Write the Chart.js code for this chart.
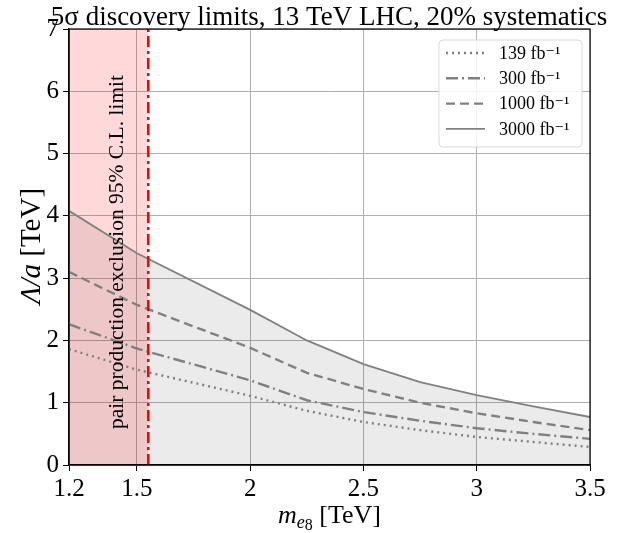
<!DOCTYPE html>
<html>
<head>
<meta charset="utf-8">
<script src="https://cdn.jsdelivr.net/npm/chart.js@4"></script>
<style>
  body { margin: 0; background: #fff; }
  canvas { display: block; }
</style>
</head>
<body>
<canvas id="limitsChart" width="624" height="533"></canvas>
<script>
// masses in TeV and the 5 sigma reach in Lambda/a (TeV)
const masses = [1.2, 1.5, 2.0, 2.25, 2.5, 2.75, 3.0, 3.25, 3.5];
const lim139 = [1.86, 1.53, 1.11, 0.87, 0.69, 0.56, 0.45, 0.37, 0.29];
const lim300 = [2.26, 1.87, 1.36, 1.04, 0.85, 0.71, 0.59, 0.50, 0.42];
const lim1000 = [3.10, 2.57, 1.88, 1.48, 1.22, 1.00, 0.83, 0.69, 0.56];
const lim3000 = [4.08, 3.40, 2.49, 2.00, 1.62, 1.33, 1.12, 0.94, 0.77];

// pair production exclusion
const exclMass = [1.2, 1.55];
const exclTop = [7, 7];
const pairLimit = 1.55;

const xTicks = [1.2, 1.5, 2, 2.5, 3, 3.5];
const yTicks = [0, 1, 2, 3, 4, 5, 6, 7];
const lumiLabels = ['139 fb\u207B\u00B9', '300 fb\u207B\u00B9', '1000 fb\u207B\u00B9', '3000 fb\u207B\u00B9'];
const titleText = '5\u03C3 discovery limits, 13 TeV LHC, 20% systematics';

const serif = '"Liberation Serif", "DejaVu Serif", serif';
const grey = '#808080';

const toPoints = (xs, ys) => xs.map((x, i) => ({ x: x, y: ys[i] }));

// title, frame, axis titles with sub/superscripts, rotated note, legend box
const extrasPlugin = {
    id: 'extras',
    afterDatasetsDraw(chart) {
        const { ctx, chartArea: a } = chart;
        ctx.save();

        // note inside the excluded band
        ctx.translate(117, 252);
        ctx.rotate(-Math.PI / 2);
        ctx.fillStyle = '#000';
        ctx.font = '21.5px ' + serif;
        ctx.textAlign = 'center';
        ctx.textBaseline = 'middle';
        ctx.fillText('pair production exclusion 95% C.L. limit', 0, 0);
        ctx.restore();
    },
    afterDraw(chart) {
        const { ctx, chartArea: a } = chart;
        ctx.save();

        // title
        ctx.fillStyle = '#000';
        ctx.font = '27px ' + serif;
        ctx.textAlign = 'center';
        ctx.textBaseline = 'alphabetic';
        ctx.fillText(titleText, 329, 25);
        ctx.textAlign = 'left';

        // axes frame
        ctx.strokeStyle = '#000';
        ctx.lineWidth = 1.2;
        ctx.strokeRect(a.left, a.top, a.right - a.left, a.bottom - a.top);

        // x axis title: m_{e8} [TeV]
        const big = 26, small = 18;
        const parts = [
            { t: 'm', f: 'italic ' + big + 'px ' + serif, dy: 0 },
            { t: 'e', f: 'italic ' + small + 'px ' + serif, dy: 5 },
            { t: '8', f: small - 2 + 'px ' + serif, dy: 7 },
            { t: ' [TeV]', f: big + 'px ' + serif, dy: 0 }
        ];
        let total = 0;
        parts.forEach(p => { ctx.font = p.f; p.w = ctx.measureText(p.t).width; total += p.w; });
        let x = (a.left + a.right) / 2 - total / 2;
        const base = 523;
        parts.forEach(p => { ctx.font = p.f; ctx.fillText(p.t, x, base + p.dy); x += p.w; });

        // y axis title: Lambda/a [TeV]
        ctx.save();
        ctx.translate(40, 246);
        ctx.rotate(-Math.PI / 2);
        const yParts = [
            { t: '\u039B/a', f: 'italic 29px ' + serif },
            { t: ' [TeV]', f: '29px ' + serif }
        ];
        total = 0;
        yParts.forEach(p => { ctx.font = p.f; p.w = ctx.measureText(p.t).width; total += p.w; });
        x = -total / 2;
        yParts.forEach(p => { ctx.font = p.f; ctx.fillText(p.t, x, 0); x += p.w; });
        ctx.restore();

        // legend box
        const lx = 439, ly = 40, lw = 143, lh = 107;
        ctx.fillStyle = 'rgba(255,255,255,0.85)';
        ctx.strokeStyle = '#d8d8d8';
        ctx.lineWidth = 1;
        ctx.beginPath();
        ctx.roundRect(lx, ly, lw, lh, 4);
        ctx.fill();
        ctx.stroke();

        const curves = chart.data.datasets.filter(d => d.isCurve);
        ctx.font = '18px ' + serif;
        ctx.textBaseline = 'middle';
        curves.forEach((d, i) => {
            const yy = 53 + i * 25.3;
            ctx.strokeStyle = d.borderColor;
            ctx.lineWidth = d.borderWidth;
            ctx.setLineDash(d.borderDash || []);
            ctx.beginPath();
            ctx.moveTo(446, yy);
            ctx.lineTo(485, yy);
            ctx.stroke();
            ctx.setLineDash([]);
            ctx.fillStyle = '#000';
            ctx.fillText(d.label, 499, yy + 1);
        });
        ctx.restore();
    }
};

const chart = new Chart(document.getElementById('limitsChart').getContext('2d'), {
    type: 'line',
    data: {
        datasets: [
            {
                label: 'pair limit',
                data: [{ x: pairLimit, y: 0 }, { x: pairLimit, y: 7 }],
                borderColor: '#ff0000',
                borderWidth: 2.6,
                borderDash: [11, 4, 3, 4],
                pointRadius: 0,
                fill: false,
                order: 0
            },
            {
                label: 'excluded',
                data: toPoints(exclMass, exclTop),
                borderWidth: 0,
                borderColor: 'rgba(0,0,0,0)',
                backgroundColor: 'rgba(255,0,0,0.15)',
                pointRadius: 0,
                fill: 'origin',
                order: 1
            },
            {
                label: lumiLabels[0], isCurve: true,
                data: toPoints(masses, lim139),
                borderColor: grey, borderWidth: 2.4, borderDash: [2, 4],
                pointRadius: 0, fill: false, order: 2
            },
            {
                label: lumiLabels[1], isCurve: true,
                data: toPoints(masses, lim300),
                borderColor: grey, borderWidth: 2.4, borderDash: [12, 4, 2, 4],
                pointRadius: 0, fill: false, order: 2
            },
            {
                label: lumiLabels[2], isCurve: true,
                data: toPoints(masses, lim1000),
                borderColor: grey, borderWidth: 2.4, borderDash: [9, 5],
                pointRadius: 0, fill: false, order: 2
            },
            {
                label: lumiLabels[3], isCurve: true,
                data: toPoints(masses, lim3000),
                borderColor: grey, borderWidth: 1.8,
                backgroundColor: 'rgba(0,0,0,0.08)',
                pointRadius: 0, fill: 'origin', order: 3
            }
        ]
    },
    options: {
        responsive: false,
        animation: false,
        layout: { padding: { left: 0, right: 34, top: 29, bottom: 0 } },
        plugins: {
            legend: { display: false },
            tooltip: { enabled: false },
            filler: { drawTime: 'beforeDatasetsDraw' },
            title: { display: false }
        },
        scales: {
            x: {
                type: 'linear',
                min: 1.2,
                max: 3.5,
                afterBuildTicks: scale => { scale.ticks = xTicks.map(v => ({ value: v })); },
                afterFit: scale => { scale.height = 68; },
                ticks: {
                    color: '#000',
                    font: { family: serif, size: 25 },
                    padding: 3,
                    maxRotation: 0,
                    autoSkip: false,
                    callback: v => String(v)
                },
                grid: { color: '#b0b0b0', lineWidth: 1, tickColor: '#000', tickLength: 6 },
                border: { color: '#000', width: 1.2 }
            },
            y: {
                min: 0,
                max: 7,
                afterBuildTicks: scale => { scale.ticks = yTicks.map(v => ({ value: v })); },
                afterFit: scale => { scale.width = 69; },
                ticks: {
                    color: '#000',
                    font: { family: serif, size: 25 },
                    padding: 4
                },
                grid: { color: '#b0b0b0', lineWidth: 1, tickColor: '#000', tickLength: 6 },
                border: { color: '#000', width: 1.2 }
            }
        }
    },
    plugins: [extrasPlugin]
});
</script>
</body>
</html>
